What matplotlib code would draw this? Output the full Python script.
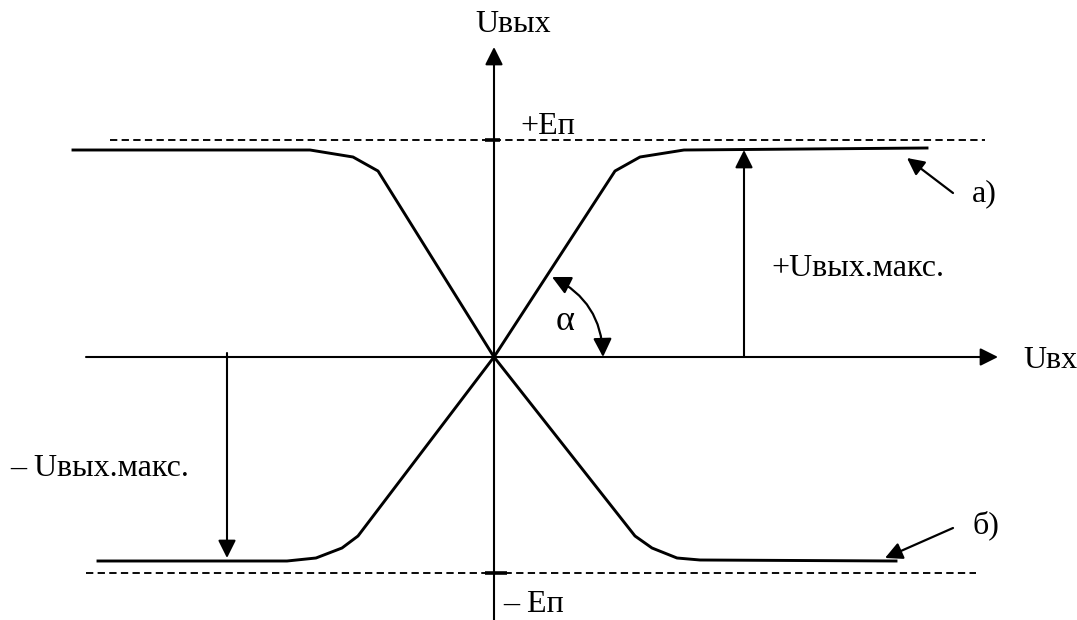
import matplotlib
matplotlib.use("Agg")
import matplotlib.pyplot as plt

plt.rcParams['font.family'] = ['Liberation Serif', 'DejaVu Serif']

# Transfer characteristics (coordinates relative to the axes origin)
curve_a_x = [-396, -207, -178, -152, -136, 0, 121, 146, 190, 433]
curve_a_y = [-204, -204, -201, -191, -179, 0, 186, 200, 207, 209]
curve_b_x = [-421, -184, -141, -116, 0, 141, 158, 183, 206, 402]
curve_b_y = [207, 207, 200, 186, 0, -179, -191, -201, -203, -204]

# Supply levels (+Eп / -Eп)
supply_levels = [217, -216]
supply_x_ranges = [(-384, 491), (-408, 482)]

# Max output arrows: x position, start y, end y
umax_x = [250, -267]
umax_from = [0, 4]
umax_to = [207, -201]

labels = {
    'uout': 'U\u0432\u044b\u0445',
    'uin': 'U\u0432\u0445',
    'ep_pos': '+\u0415\u043f',
    'ep_neg': '\u2013 \u0415\u043f',
    'umax_pos': '+U\u0432\u044b\u0445.\u043c\u0430\u043a\u0441.',
    'umax_neg': '\u2013 U\u0432\u044b\u0445.\u043c\u0430\u043a\u0441.',
    'alpha': '\u03b1',
    'a': '\u0430)',
    'b': '\u0431)',
}

fig = plt.figure(figsize=(10.77, 6.2), dpi=100)
ax = fig.add_axes([0, 0, 1, 1])
ax.set_xlim(-494, 583)
ax.set_ylim(-263, 357)
ax.axis('off')

FS = 23
k = 'black'
head = '-|>,head_length=0.4,head_width=0.2'

# axes
ax.annotate('', xy=(0, 310), xytext=(0, -263),
            arrowprops=dict(arrowstyle=head, mutation_scale=27, lw=1.5,
                            color=k, shrinkA=0, shrinkB=0))
ax.annotate('', xy=(504, 0), xytext=(-408, 0),
            arrowprops=dict(arrowstyle=head, mutation_scale=27, lw=1.5,
                            color=k, shrinkA=0, shrinkB=0))

# supply dashed lines
for lvl, (x0, x1) in zip(supply_levels, supply_x_ranges):
    ax.plot([x0, x1], [lvl, lvl], color=k, lw=1.35, dashes=(3.9, 2.3))
# ticks on vertical axis
ax.plot([-9, 6], [supply_levels[0], supply_levels[0]], color=k, lw=2.6, solid_capstyle='butt')
ax.plot([-9, 13], [supply_levels[1], supply_levels[1]], color=k, lw=2.6, solid_capstyle='butt')

# curves
ax.plot(curve_a_x, curve_a_y, color=k, lw=2.1, solid_joinstyle='round')
ax.plot(curve_b_x, curve_b_y, color=k, lw=2.1, solid_joinstyle='round')

# max output arrows
for xx, y0, y1 in zip(umax_x, umax_from, umax_to):
    ax.annotate('', xy=(xx, y1), xytext=(xx, y0),
                arrowprops=dict(arrowstyle=head, mutation_scale=27, lw=1.5,
                                color=k, shrinkA=0, shrinkB=0))

# pointer arrows for a) and b)
ax.annotate('', xy=(413, 199), xytext=(459, 164),
            arrowprops=dict(arrowstyle=head, mutation_scale=26, lw=1.6,
                            color=k, shrinkA=0, shrinkB=0))
ax.annotate('', xy=(391, -201), xytext=(459, -171),
            arrowprops=dict(arrowstyle=head, mutation_scale=26, lw=1.6,
                            color=k, shrinkA=0, shrinkB=0))

# alpha arc
ax.annotate('', xy=(109, 0), xytext=(58, 80),
            arrowprops=dict(arrowstyle='<|-|>,head_length=0.4,head_width=0.2',
                            mutation_scale=28, lw=1.6, color=k, shrinkA=0, shrinkB=0,
                            connectionstyle='arc3,rad=-0.3'))

# texts
ax.text(-19, 332, labels['uout'], fontsize=FS, ha='left', va='center')
ax.text(529, -3, labels['uin'], fontsize=FS, ha='left', va='center')
ax.text(26, 231, labels['ep_pos'], fontsize=FS, ha='left', va='center')
ax.text(9, -255, labels['ep_neg'], fontsize=FS, ha='left', va='baseline')
ax.text(277, 89, labels['umax_pos'], fontsize=FS, ha='left', va='center')
ax.text(-484, -111, labels['umax_neg'], fontsize=FS, ha='left', va='center')
ax.text(71, 36, labels['alpha'], fontsize=FS + 3, ha='center', va='center')
ax.text(478, 163, labels['a'], fontsize=FS, ha='left', va='center')
ax.text(478, -168, labels['b'], fontsize=FS, ha='left', va='center')

fig.savefig('out.png', dpi=100)
